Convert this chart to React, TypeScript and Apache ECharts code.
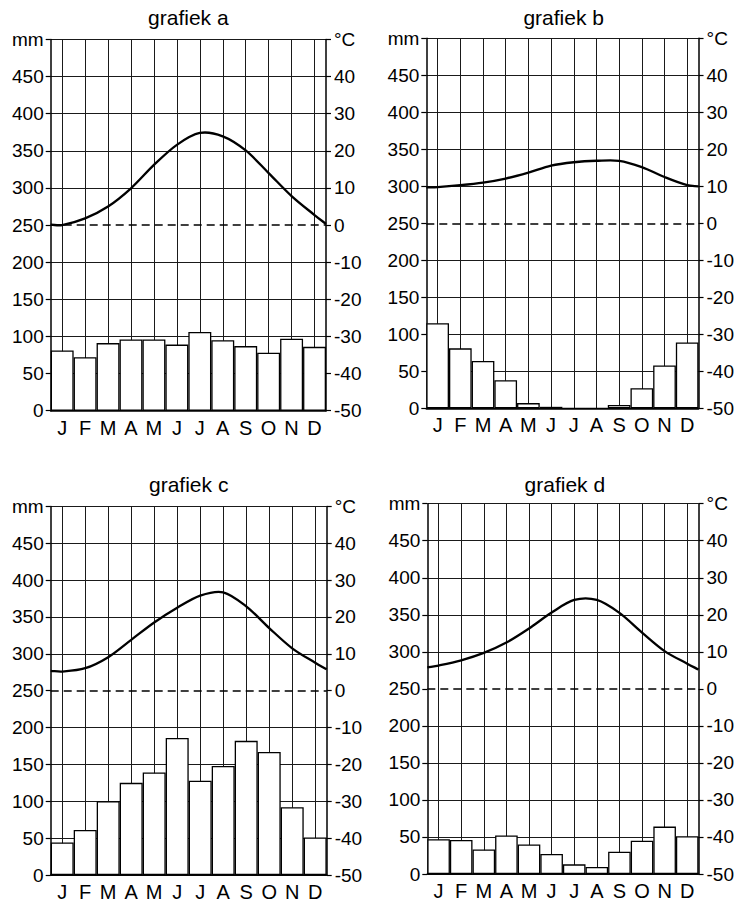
import React, { useEffect, useRef } from 'react';
import * as echarts from 'echarts';

const months = ['J', 'F', 'M', 'A', 'M', 'J', 'J', 'A', 'S', 'O', 'N', 'D'];
const titles = ['grafiek a', 'grafiek b', 'grafiek c', 'grafiek d'];

// precipitation (mm)
const precipA = [81, 72, 91, 96, 96, 89, 106, 95, 87, 78, 97, 86];
const precipB = [115, 81, 64, 38, 7, 2, 0, 0, 4.5, 27, 58, 89];
const precipC = [44, 61, 100, 125, 139, 186, 128, 148, 182, 167, 92, 51];
const precipD = [47, 46, 33, 52, 40, 27, 13, 9.5, 30, 45, 64, 51];

// temperature (°C) at month centres
const tempA = [0, 1.8, 5, 9.9, 16.2, 21.6, 24.8, 23.9, 20.1, 14, 7.8, 2.7];
const tempB = [9.8, 10.3, 11, 12.1, 13.7, 15.6, 16.5, 16.9, 16.9, 15.2, 12.5, 10.3];
const tempC = [5.2, 6.1, 9.1, 13.8, 18.5, 22.5, 25.8, 26.7, 22.9, 17, 11.5, 7.6];
const tempD = [6.3, 7.7, 9.7, 12.5, 16.3, 20.6, 24, 24, 20.5, 15.2, 10.2, 6.8];

// temperature at the left and right edge of the plot (start, end)
const edgeA = [0.1, 0.3];
const edgeB = [9.7, 10];
const edgeC = [5.4, 5.8];
const edgeD = [5.8, 5.2];

const precip = [precipA, precipB, precipC, precipD];
const temps = [tempA, tempB, tempC, tempD];
const edges = [edgeA, edgeB, edgeC, edgeD];

const mmTicks = [0, 50, 100, 150, 200, 250, 300, 350, 400, 450, 500];

const FONT = '"Liberation Sans", Arial, sans-serif';

const grids = [
  { left: 50.7, top: 39.4, width: 275.3, height: 371.3 },
  { left: 426.3, top: 38.3, width: 274.8, height: 370 },
  { left: 50.7, top: 506.4, width: 276, height: 369.6 },
  { left: 427.3, top: 503.7, width: 275, height: 370.3 },
];
const titleY = [17.5, 17.2, 484.5, 484.5];

// smooth cubic Hermite path through pixel points (x increasing)
function smoothPath(p: number[][]): string {
  const n = p.length;
  const m: number[] = [];
  for (let k = 0; k < n; k++) {
    const a = p[Math.max(0, k - 1)];
    const b = p[Math.min(n - 1, k + 1)];
    m.push((b[1] - a[1]) / (b[0] - a[0]));
  }
  let d = `M${p[0][0]},${p[0][1]}`;
  for (let k = 0; k < n - 1; k++) {
    const h = p[k + 1][0] - p[k][0];
    const c1x = p[k][0] + h / 3;
    const c1y = p[k][1] + (m[k] * h) / 3;
    const c2x = p[k + 1][0] - h / 3;
    const c2y = p[k + 1][1] - (m[k + 1] * h) / 3;
    d += ` C${c1x},${c1y} ${c2x},${c2y} ${p[k + 1][0]},${p[k + 1][1]}`;
  }
  return d;
}

export default function App() {
  const ref = useRef<HTMLDivElement>(null);

  useEffect(() => {
    if (!ref.current) return;
    const chart = echarts.init(ref.current, null, { renderer: 'svg' });

    const xAxis: any[] = [];
    const yAxis: any[] = [];
    const series: any[] = [];
    const graphic: any[] = [];
    const splitColors = mmTicks.map((v) => (v === 250 ? 'rgba(0,0,0,0)' : '#1a1a1a'));

    grids.forEach((g, i) => {
      xAxis.push({
        type: 'category',
        gridIndex: i,
        data: months,
        boundaryGap: true,
        axisLine: { show: true, lineStyle: { color: '#000', width: 1.5 } },
        axisTick: { show: false },
        axisLabel: { color: '#000', fontSize: 20, fontFamily: FONT, margin: 7, interval: 0 },
        splitLine: { show: true, interval: 0, alignWithLabel: true, lineStyle: { color: '#1a1a1a', width: 1 } },
      });
      xAxis.push({ type: 'value', gridIndex: i, min: 0, max: 12, show: false });
      yAxis.push({
        type: 'value',
        gridIndex: i,
        position: 'left',
        min: 0,
        max: 500,
        interval: 50,
        axisLine: { show: true, lineStyle: { color: '#000', width: 1.5 } },
        axisTick: { show: true, length: 5, lineStyle: { color: '#000', width: 1.2 } },
        axisLabel: {
          color: '#000', fontSize: 19, fontFamily: FONT, margin: 7,
          formatter: (v: number) => (v === 500 ? 'mm' : String(v)),
        },
        splitLine: { show: true, lineStyle: { color: splitColors, width: 1 } },
      });
      yAxis.push({
        type: 'value',
        gridIndex: i,
        position: 'right',
        min: -50,
        max: 50,
        interval: 10,
        axisLine: { show: true, lineStyle: { color: '#000', width: 1.5 } },
        axisTick: { show: true, length: 5, lineStyle: { color: '#000', width: 1.2 } },
        axisLabel: {
          color: '#000', fontSize: 19, fontFamily: FONT, margin: 8,
          formatter: (v: number) => (v === 50 ? '°C' : String(v)),
        },
        splitLine: { show: false },
      });

      series.push({
        type: 'bar',
        xAxisIndex: 2 * i,
        yAxisIndex: 2 * i,
        data: precip[i],
        barCategoryGap: '0%',
        silent: true,
        itemStyle: { color: '#fff', borderColor: '#000', borderWidth: 1.3 },
        markLine: {
          silent: true,
          symbol: 'none',
          label: { show: false },
          lineStyle: { color: '#000', type: [8, 5], width: 1.5 },
          data: [{ yAxis: 250 }],
        },
      });

      const pts: number[][] = [[0, edges[i][0]]];
      temps[i].forEach((v, k) => pts.push([k + 0.5, v]));
      pts.push([12, edges[i][1]]);

      series.push({
        type: 'custom',
        xAxisIndex: 2 * i + 1,
        yAxisIndex: 2 * i + 1,
        data: pts,
        encode: { x: 0, y: 1 },
        silent: true,
        z: 4,
        renderItem: (params: any, api: any) => {
          if (params.dataIndex !== 0) return null;
          const px = pts.map((q) => api.coord(q));
          return {
            type: 'path',
            shape: { pathData: smoothPath(px) },
            style: { stroke: '#000', fill: 'none', lineWidth: 2.3 },
          };
        },
      });

      graphic.push({
        type: 'text',
        x: g.left + g.width / 2,
        y: titleY[i],
        style: {
          text: titles[i],
          fontSize: 21,
          fontFamily: FONT,
          fill: '#000',
          align: 'center',
          verticalAlign: 'middle',
        },
      });
    });

    chart.setOption({
      animation: false,
      backgroundColor: '#fff',
      grid: grids.map((g) => ({ ...g, containLabel: false })),
      xAxis,
      yAxis,
      series,
      graphic,
    });

    return () => chart.dispose();
  }, []);

  return (
    <div
      ref={ref}
      style={{ position: 'fixed', left: 0, top: 0, width: 737, height: 902, background: '#fff' }}
    />
  );
}
